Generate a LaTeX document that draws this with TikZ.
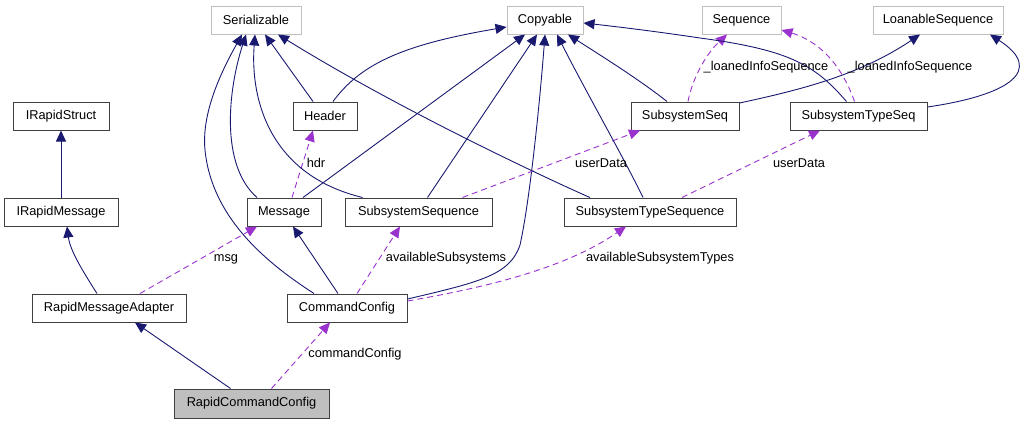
\documentclass[tikz,border=0pt]{standalone}
\usepackage{fontspec}
\setmainfont{Liberation Sans}
\usetikzlibrary{arrows.meta}
\definecolor{inhblue}{HTML}{191970}
\definecolor{usepurple}{HTML}{9A32CD}
\definecolor{extgray}{HTML}{BFBFBF}

\begin{document}
\begin{tikzpicture}[x=1pt,y=-1pt,
  cls/.style={draw=black!75, line width=1pt, minimum height=28pt, inner sep=0pt, font=\fontsize{12.8}{15}\selectfont},
  ext/.style={cls, draw=extgray},
  lbl/.style={inner sep=0pt, font=\fontsize{12.8}{15}\selectfont},
  inh/.style={draw=inhblue, line width=0.9pt, -{Triangle[length=11pt,width=10pt]}},
  uses/.style={draw=usepurple, line width=0.9pt, dash pattern=on 6pt off 4pt, -{Triangle[length=11pt,width=10pt]}}]
\useasboundingbox (0,0) rectangle (1034,424);
\node[ext, minimum width=90pt] (ser) at (256,20) {Serializable};
\node[ext, minimum width=76pt] (copy) at (545,20) {Copyable};
\node[ext, minimum width=79pt] (seq) at (741.5,20) {Sequence};
\node[ext, minimum width=130pt] (loan) at (938,20) {LoanableSequence};
\node[cls, minimum width=96pt] (irs) at (61,116) {IRapidStruct};
\node[cls, minimum width=64pt] (hdr) at (325,116) {Header};
\node[cls, minimum width=108pt] (sseq) at (685,116) {SubsystemSeq};
\node[cls, minimum width=137pt] (stseq) at (858.5,116) {SubsystemTypeSeq};
\node[cls, minimum width=114pt] (irm) at (61,212) {IRapidMessage};
\node[cls, minimum width=74pt] (msg) at (284,212) {Message};
\node[cls, minimum width=147pt] (ssq) at (418.5,212) {SubsystemSequence};
\node[cls, minimum width=172pt] (stsq) at (650,212) {SubsystemTypeSequence};
\node[cls, minimum width=154pt] (rma) at (109,308) {RapidMessageAdapter};
\node[cls, minimum width=120pt] (cc) at (347,308) {CommandConfig};
\node[cls, minimum width=155pt, minimum height=29pt, fill=extgray] (rcc) at (251.5,403.5) {RapidCommandConfig};

\draw[inh] (irm.north) -- (irs.south);
\draw[inh] ([xshift=-12pt]rma.north) .. controls (82,270) and (70,250) .. ([xshift=6pt]irm.south);
\draw[inh] ([xshift=-21pt]rcc.north) -- ([xshift=26pt]rma.south);
\draw[uses] ([xshift=20pt]rcc.north) -- ([xshift=-17pt]cc.south);
\draw[uses] ([xshift=31pt]rma.north) -- ([xshift=-27pt]msg.south);
\draw[inh] ([xshift=-9pt]cc.north) -- ([xshift=9pt]msg.south);
\draw[inh] ([xshift=-33pt]cc.north) .. controls (270,265) and (212,220) .. (205,150)
  .. controls (201,110) and (225,65) .. ([xshift=-14pt]ser.south);
\draw[inh] ([yshift=9pt]cc.east) .. controls (480,282) and (510,275) .. (520,245)
  .. controls (530,200) and (540,100) .. (copy.south);
\draw[uses] ([xshift=10pt]cc.north) -- ([xshift=-18.5pt]ssq.south);
\draw[uses] ([yshift=7pt]cc.east) .. controls (500,285) and (570,265) .. ([xshift=-24pt]stsq.south);
\draw[inh] ([xshift=-27pt]msg.north) .. controls (220,165) and (228,90) .. ([xshift=-10pt]ser.south);
\draw[inh] ([xshift=19pt]msg.north) -- ([xshift=-20pt]copy.south);
\draw[uses] ([xshift=8pt]msg.north) -- ([xshift=-12pt]hdr.south);
\draw[inh] ([xshift=-56pt]ssq.north) .. controls (270,175) and (250,100) .. ([xshift=-1pt]ser.south);
\draw[inh] ([xshift=9pt]ssq.north) -- ([xshift=-8pt]copy.south);
\draw[uses] ([xshift=44pt]ssq.north) -- ([xshift=-45pt]sseq.south);
\draw[inh] ([xshift=-60pt]stsq.north) .. controls (550,180) and (400,110) .. ([xshift=22pt]ser.south);
\draw[inh] ([xshift=-7pt]stsq.north) .. controls (625,160) and (585,90) .. ([xshift=12pt]copy.south);
\draw[uses] ([xshift=32pt]stsq.north) -- ([xshift=-38.5pt]stseq.south);
\draw[inh] ([xshift=-12pt]hdr.north) -- ([xshift=9pt]ser.south);
\draw[inh] ([xshift=8pt]hdr.north) .. controls (360,65) and (400,45) .. ([yshift=-7pt]copy.west);
\draw[inh] ([xshift=-18pt]sseq.north) .. controls (640,80) and (600,55) .. ([xshift=23pt]copy.south);
\draw[uses] ([xshift=3pt]sseq.north) .. controls (692,80) and (705,55) .. ([xshift=-14.5pt]seq.south);
\draw[inh] ([yshift=13pt]sseq.east) .. controls (800,90) and (860,75) .. ([xshift=-18pt]loan.south);
\draw[inh] ([xshift=-12pt]stseq.north) .. controls (815,65) and (790,50) .. (700,38)
  .. controls (660,32) and (620,27) .. ([yshift=-3pt]copy.east);
\draw[uses] ([xshift=-4pt]stseq.north) .. controls (840,60) and (815,40) .. ([yshift=-10pt]seq.east);
\draw[inh] ([yshift=9pt]stseq.east) .. controls (1010,95) and (1045,70) .. ([xshift=52pt]loan.south);

\node[lbl] (l-cc) at (355,354) {commandConfig};
\node[lbl] (l-msg) at (226,259) {msg};
\node[lbl] (l-avs) at (446,258) {availableSubsystems};
\node[lbl] (l-avt) at (660,258) {availableSubsystemTypes};
\node[lbl] (l-hdr) at (316,163) {hdr};
\node[lbl] (l-ud1) at (601,163) {userData};
\node[lbl] (l-ud2) at (799,163) {userData};
\node[lbl] (l-lis1) at (766,67) {\_loanedInfoSequence};
\node[lbl] (l-lis2) at (910,67) {\_loanedInfoSequence};
\end{tikzpicture}
\end{document}
